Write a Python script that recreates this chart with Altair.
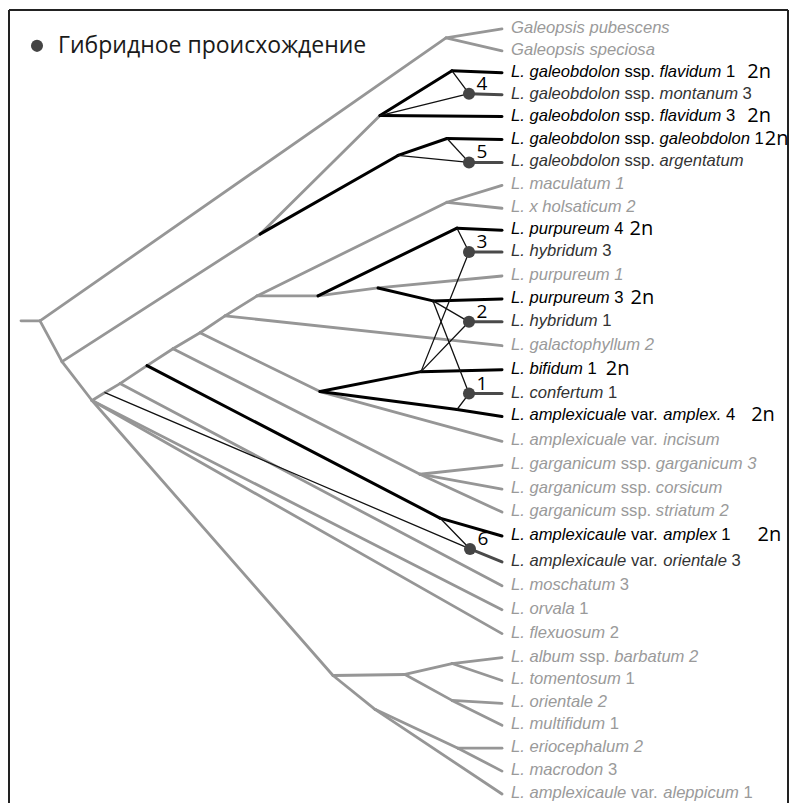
import altair as alt
import pandas as pd

# ---------------- data ----------------
# leaf labels (top to bottom); *...* marks italic parts
leaf_labels = [
    "*Galeopsis pubescens*",
    "*Galeopsis speciosa*",
    "*L. galeobdolon* ssp. *flavidum* 1",
    "*L. galeobdolon* ssp. *montanum* 3",
    "*L. galeobdolon* ssp. *flavidum* 3",
    "*L. galeobdolon* ssp. *galeobdolon* 1",
    "*L. galeobdolon* ssp. *argentatum*",
    "*L. maculatum 1*",
    "*L. x holsaticum 2*",
    "*L. purpureum* 4",
    "*L. hybridum* 3",
    "*L. purpureum 1*",
    "*L. purpureum* 3",
    "*L. hybridum* 1",
    "*L. galactophyllum 2*",
    "*L. bifidum* 1",
    "*L. confertum* 1",
    "*L. amplexicuale* var. *amplex.* 4",
    "*L. amplexicuale* var. *incisum*",
    "*L. garganicum* ssp. *garganicum 3*",
    "*L. garganicum* ssp. *corsicum*",
    "*L. garganicum* ssp. *striatum 2*",
    "*L. amplexicaule* var. *amplex* 1",
    "*L. amplexicaule* var. *orientale* 3",
    "*L. moschatum* 3",
    "*L. orvala* 1",
    "*L. flexuosum* 2",
    "*L. album* ssp. *barbatum 2*",
    "*L. tomentosum* 1",
    "*L. orientale 2*",
    "*L. multifidum* 1",
    "*L. eriocephalum 2*",
    "*L. macrodon* 3",
    "*L. amplexicaule* var. *aleppicum* 1",
]
leaf_y = [29, 51, 73, 95, 117, 140, 163, 186, 209, 231, 253, 277, 300, 323,
          347, 371, 395, 418, 443, 467, 491, 514, 538, 564, 588, 612, 636,
          660, 683, 706, 728, 751, 774, 797]
leaf_tone = ["gray", "gray", "black", "dark", "black", "black", "dark", "gray",
             "gray", "black", "dark", "gray", "black", "dark", "gray", "black",
             "dark", "black", "gray", "gray", "gray", "gray", "black", "dark",
             "gray", "gray", "gray", "gray", "gray", "gray", "gray", "gray",
             "gray", "gray"]
diploid_rows = [2, 4, 5, 9, 12, 15, 17, 22]
diploid_gap = [12, 12, 1, 6, 7, 9, 16, 27]
tip_x = 502

# internal nodes of the slanted cladogram
node_names = ["root0", "root", "gal", "lam", "galb", "K", "Lf", "M", "N", "bb",
              "b1", "b2", "b3", "b4", "b5", "b6", "b7", "mac", "B", "C", "D",
              "E", "H", "F", "G", "garg", "J", "al", "al2", "al3", "al4", "al5",
              "al6"]
node_x = [21, 40, 446, 62, 260, 380, 452, 398, 447, 92,
          105, 120, 147, 173, 200, 225, 257, 447, 318, 457, 378,
          433, 320, 421, 457, 420, 440, 333, 405, 452, 452, 375, 458]
node_y = [322, 322, 38, 363, 235, 116, 71, 156, 139, 402,
          394, 385, 367, 350, 334, 317, 297, 203, 297, 229, 289,
          302, 393, 373, 411, 476, 520, 678, 677, 666, 703, 712, 751]

# hybrid-origin points
hyb_names = ["h1", "h2", "h3", "h4", "h5", "h6"]
hyb_num = ["1", "2", "3", "4", "5", "6"]
hyb_x = [469, 469, 469, 469, 469, 470]
hyb_y = [395, 323, 253, 94, 163, 551]

edges_gray = [
    ("root0", "root"), ("root", "gal"), ("gal", "leaf0"), ("gal", "leaf1"),
    ("root", "lam"), ("lam", "bb"), ("lam", "galb"), ("galb", "K"),
    ("bb", "b1"), ("b1", "b2"), ("b2", "b3"), ("b3", "b4"), ("b4", "b5"),
    ("b5", "b6"), ("b6", "b7"), ("b7", "mac"), ("mac", "leaf7"), ("mac", "leaf8"),
    ("b7", "B"), ("B", "D"), ("D", "leaf11"), ("b6", "leaf14"), ("b5", "H"),
    ("H", "leaf18"), ("b4", "garg"), ("garg", "leaf19"), ("garg", "leaf20"),
    ("garg", "leaf21"), ("b2", "leaf24"), ("bb", "leaf25"), ("bb", "leaf26"),
    ("bb", "al"), ("al", "al2"), ("al2", "al3"), ("al3", "leaf27"),
    ("al3", "leaf28"), ("al2", "al4"), ("al4", "leaf29"), ("al4", "leaf30"),
    ("al", "al5"), ("al5", "al6"), ("al6", "leaf31"), ("al6", "leaf32"),
    ("al5", "leaf33"),
]
edges_black = [
    ("K", "Lf"), ("Lf", "leaf2"), ("K", "leaf4"), ("galb", "M"), ("M", "N"),
    ("N", "leaf5"), ("B", "C"), ("C", "leaf9"), ("D", "E"), ("E", "leaf12"),
    ("H", "F"), ("F", "leaf15"), ("H", "G"), ("G", "leaf17"), ("b3", "J"),
    ("J", "leaf22"),
]
edges_thin = [
    ("K", "h4"), ("Lf", "h4"), ("M", "h5"), ("N", "h5"), ("C", "h3"), ("F", "h3"),
    ("E", "h2"), ("F", "h2"), ("E", "h1"), ("G", "h1"), ("J", "h6"), ("b1", "h6"),
]
edges_hyb = [
    ("h4", "leaf3"), ("h5", "leaf6"), ("h3", "leaf10"), ("h2", "leaf13"),
    ("h1", "leaf16"), ("h6", "leaf23"),
]

legend_text = "Гибридное происхождение"
legend_pos = (37, 46)

# ---------------- styles ----------------
edge_style = {"gray": ("#969696", 2.8), "black": ("#000000", 3.0),
              "thin": ("#111111", 1.3), "hyb": ("#4a4a4a", 3.0)}
tone_color = {"gray": "#9a9a9a", "dark": "#333333", "black": "#000000"}
LABEL_FONT = "Liberation Sans"
LABEL_SIZE = 16.6
label_x = 511

# Arial / Liberation Sans advance widths (1/1000 em)
AW = {' ': 278, '.': 278, 'a': 556, 'b': 556, 'c': 500, 'd': 556, 'e': 556,
      'f': 278, 'g': 556, 'h': 556, 'i': 222, 'j': 222, 'k': 500, 'l': 222,
      'm': 833, 'n': 556, 'o': 556, 'p': 556, 'q': 556, 'r': 333, 's': 500,
      't': 278, 'u': 556, 'v': 500, 'w': 722, 'x': 500, 'y': 500, 'z': 500,
      'L': 556, 'G': 778}


def tw(s):
    return sum(AW.get(ch, 556) for ch in s) * LABEL_SIZE / 1000.0


# ---------------- build tables ----------------
pos = {n: (x, y) for n, x, y in zip(node_names, node_x, node_y)}
pos.update({n: (x, y) for n, x, y in zip(hyb_names, hyb_x, hyb_y)})
for i, y in enumerate(leaf_y):
    pos[f"leaf{i}"] = (tip_x, y)

seg_rows = []
for kind, edges in [("gray", edges_gray), ("black", edges_black),
                    ("thin", edges_thin), ("hyb", edges_hyb)]:
    col, w = edge_style[kind]
    for a, b in edges:
        (x1, y1), (x2, y2) = pos[a], pos[b]
        seg_rows.append({"x": x1, "y": y1, "x2": x2, "y2": y2, "c": col, "w": w})
segs = pd.DataFrame(seg_rows)

txt_rows = []
dip_rows = []
for i, lab in enumerate(leaf_labels):
    parts = lab.split("*")
    cur = label_x
    for k, p in enumerate(parts):
        if not p:
            continue
        lead = len(p) - len(p.lstrip(" "))
        t = p.strip()
        if t:
            txt_rows.append({"x": cur + tw(p[:lead]), "y": leaf_y[i], "t": t,
                             "it": k % 2 == 1, "c": tone_color[leaf_tone[i]]})
        cur += tw(p)
    if i in diploid_rows:
        g = diploid_gap[diploid_rows.index(i)]
        dip_rows.append({"x": cur + g, "y": leaf_y[i], "t": "2n"})
txt = pd.DataFrame(txt_rows)
dip = pd.DataFrame(dip_rows)

hyb = pd.DataFrame({"x": hyb_x, "y": hyb_y, "num": hyb_num})
leg = pd.DataFrame({"x": [legend_pos[0]], "y": [legend_pos[1]], "t": [legend_text]})
frame = pd.DataFrame({"x": [9, 9, 788], "y": [10, 10, 10],
                      "x2": [9, 788, 788], "y2": [806, 10, 806]})

# ---------------- chart ----------------
xs = alt.Scale(domain=[8, 789], nice=False, zero=False)
ys = alt.Scale(domain=[8, 806], reverse=True, nice=False, zero=False)
X = alt.X("x:Q", scale=xs, axis=None)
Y = alt.Y("y:Q", scale=ys, axis=None)

frame_l = alt.Chart(frame).mark_rule(color="#222222", strokeWidth=2).encode(
    x=X, y=Y, x2="x2:Q", y2="y2:Q")

lines = alt.Chart(segs).mark_rule(strokeCap="round").encode(
    x=X, y=Y, x2="x2:Q", y2="y2:Q",
    color=alt.Color("c:N", scale=None),
    strokeWidth=alt.StrokeWidth("w:Q", scale=None))

dots = alt.Chart(hyb).mark_circle(size=145, opacity=1, color="#444444").encode(x=X, y=Y)
nums = alt.Chart(hyb).mark_text(dx=13, dy=-10, font="Open Sans", fontSize=19,
                                color="#000000").encode(x=X, y=Y, text="num:N")

lab_it = alt.Chart(txt).transform_filter("datum.it").mark_text(
    align="left", baseline="middle", font=LABEL_FONT, fontSize=LABEL_SIZE,
    fontStyle="italic", dy=-1).encode(x=X, y=Y, text="t:N",
                                      color=alt.Color("c:N", scale=None))
lab_rm = alt.Chart(txt).transform_filter("!datum.it").mark_text(
    align="left", baseline="middle", font=LABEL_FONT, fontSize=LABEL_SIZE,
    dy=-1).encode(x=X, y=Y, text="t:N", color=alt.Color("c:N", scale=None))
dip_t = alt.Chart(dip).mark_text(align="left", baseline="middle", font="Open Sans",
                                 fontSize=20, color="#000000", dy=-1).encode(
    x=X, y=Y, text="t:N")

leg_dot = alt.Chart(leg).mark_circle(size=145, opacity=1, color="#444444").encode(x=X, y=Y)
leg_txt = alt.Chart(leg).mark_text(align="left", baseline="middle", dx=21,
                                   font="Open Sans", fontSize=23,
                                   color="#1a1a1a").encode(x=X, y=Y, text="t:N")

chart = alt.layer(frame_l, lines, dots, nums, lab_it, lab_rm, dip_t,
                  leg_dot, leg_txt).properties(
    width=781, height=795, padding=0,
    autosize=alt.AutoSizeParams(type="none"),
    background="white",
).configure_view(stroke=None)

chart.save("out.html", embed_options={"renderer": "svg", "actions": False})
